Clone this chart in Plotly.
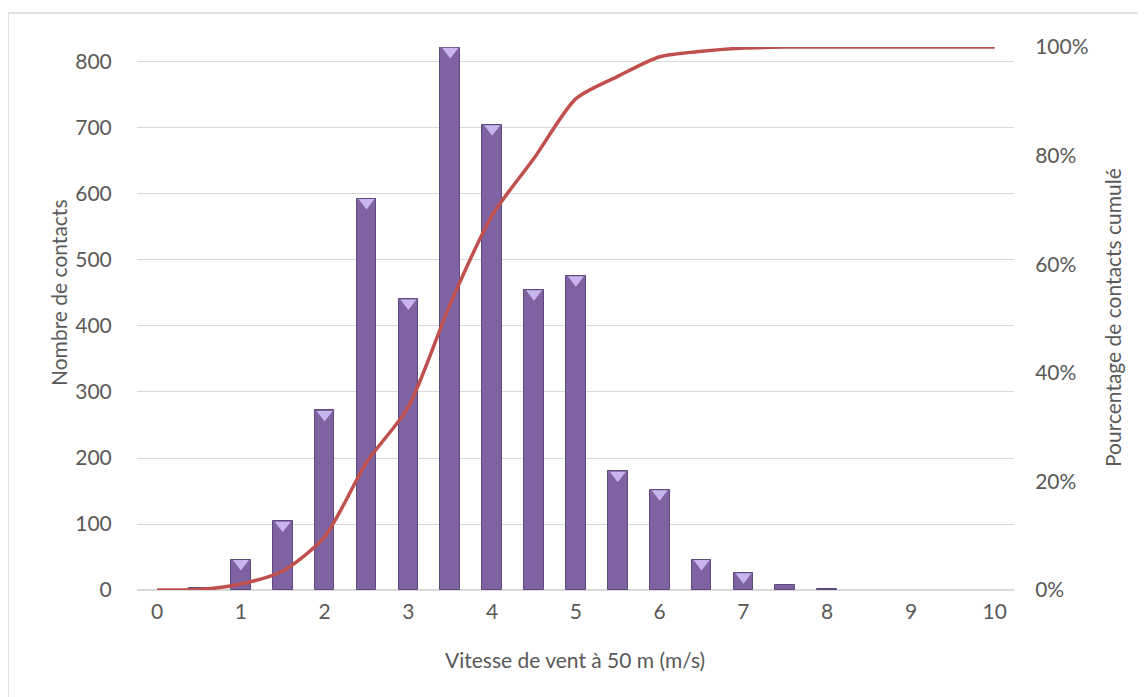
import plotly.graph_objects as go

# Data
speed_bins = [0.5, 1, 1.5, 2, 2.5, 3, 3.5, 4, 4.5, 5, 5.5, 6, 6.5, 7, 7.5, 8]
contacts = [3, 46, 104, 272, 593, 441, 822, 705, 455, 476, 180, 152, 46, 26, 7, 1]

cum_x = [0, 0.5, 1, 1.5, 2, 2.5, 3, 3.5, 4, 4.5, 5, 5.5, 6, 6.5, 7, 7.5, 8, 8.5, 9, 9.5, 10]
cum_pct = [0.0, 0.0007, 0.011, 0.035, 0.098, 0.235, 0.337, 0.527, 0.690, 0.795, 0.905,
           0.946, 0.982, 0.992, 0.998, 0.9998, 1.0, 1.0, 1.0, 1.0, 1.0]

x_ticks = [0, 1, 2, 3, 4, 5, 6, 7, 8, 9, 10]
y_ticks = [0, 100, 200, 300, 400, 500, 600, 700, 800]
y2_ticks = [0, 0.2, 0.4, 0.6, 0.8, 1.0]

FONT = "Lato"
TXT = "#595959"
GRID = "#D9D9D9"
FS = 21

fig = go.Figure()

fig.add_trace(go.Bar(
    x=speed_bins, y=contacts, width=0.235,
    marker=dict(color="#7F62A1", line=dict(color="#5E4A7D", width=1)),
    showlegend=False, hoverinfo="x+y",
))

# bevel highlight (triangle) at top of each bar
bev_x = [x for x, v in zip(speed_bins, contacts) if v >= 20]
bev_y = [v - 6 for v in contacts if v >= 20]
fig.add_trace(go.Scatter(
    x=bev_x, y=bev_y, mode="markers",
    marker=dict(symbol="triangle-down", size=14, color="#C9B5EE", line=dict(width=0)),
    showlegend=False, hoverinfo="skip",
))

fig.add_trace(go.Scatter(
    x=cum_x, y=cum_pct, yaxis="y2", mode="lines",
    line=dict(color="#C0504D", width=3.5, shape="spline", smoothing=0.7),
    showlegend=False,
))

# page is offset by the 8px body margin
OFF = 8
W, H = 1146 - OFF, 697 - OFF
L, T = 137 - OFF, 47 - OFF
R = W - (1014 - OFF)
B = H - (590 - OFF)
pw = W - L - R
ph = H - T - B

def px(x):
    return (x - OFF - L) / pw

def py(y):
    return (H - B - (y - OFF)) / ph

fig.update_layout(
    width=W, height=H,
    margin=dict(l=L, r=R, t=T, b=B),
    paper_bgcolor="white", plot_bgcolor="white",
    font=dict(family=FONT, size=FS, color=TXT),
    bargap=0,
    xaxis=dict(range=[-0.24, 10.23], tickvals=x_ticks, showgrid=False, zeroline=False,
               showline=False, ticks="outside", ticklen=3, tickcolor="rgba(0,0,0,0)",
               tickfont=dict(size=FS, color=TXT)),
    yaxis=dict(range=[0, 822.7], tickvals=y_ticks, showgrid=True, gridcolor=GRID, gridwidth=1,
               zeroline=True, zerolinecolor=GRID, zerolinewidth=2, showline=False,
               ticks="outside", ticklen=20, tickcolor="rgba(0,0,0,0)",
               tickfont=dict(size=FS, color=TXT)),
    yaxis2=dict(range=[0, 1], tickvals=y2_ticks, tickformat=".0%", overlaying="y", side="right",
                showgrid=False, zeroline=False, showline=False,
                ticks="outside", ticklen=16, tickcolor="rgba(0,0,0,0)",
                tickfont=dict(size=FS, color=TXT)),
    shapes=[dict(type="rect", xref="paper", yref="paper",
                 x0=px(8), x1=px(1200), y0=py(13), y1=py(760),
                 line=dict(color=GRID, width=1.5), fillcolor="rgba(0,0,0,0)", layer="below")],
    annotations=[
        dict(text="Vitesse de vent à 50 m (m/s)", xref="paper", yref="paper",
             x=px(575), y=py(660), xanchor="center", yanchor="middle",
             showarrow=False, font=dict(size=FS, color=TXT)),
        dict(text="Nombre de contacts", xref="paper", yref="paper",
             x=px(58), y=py(293), xanchor="center", yanchor="middle", textangle=-90,
             showarrow=False, font=dict(size=FS, color=TXT)),
        dict(text="Pourcentage de contacts cumulé", xref="paper", yref="paper",
             x=px(1113), y=py(318), xanchor="center", yanchor="middle", textangle=-90,
             showarrow=False, font=dict(size=FS, color=TXT)),
    ],
)

fig.write_html("out.html")
